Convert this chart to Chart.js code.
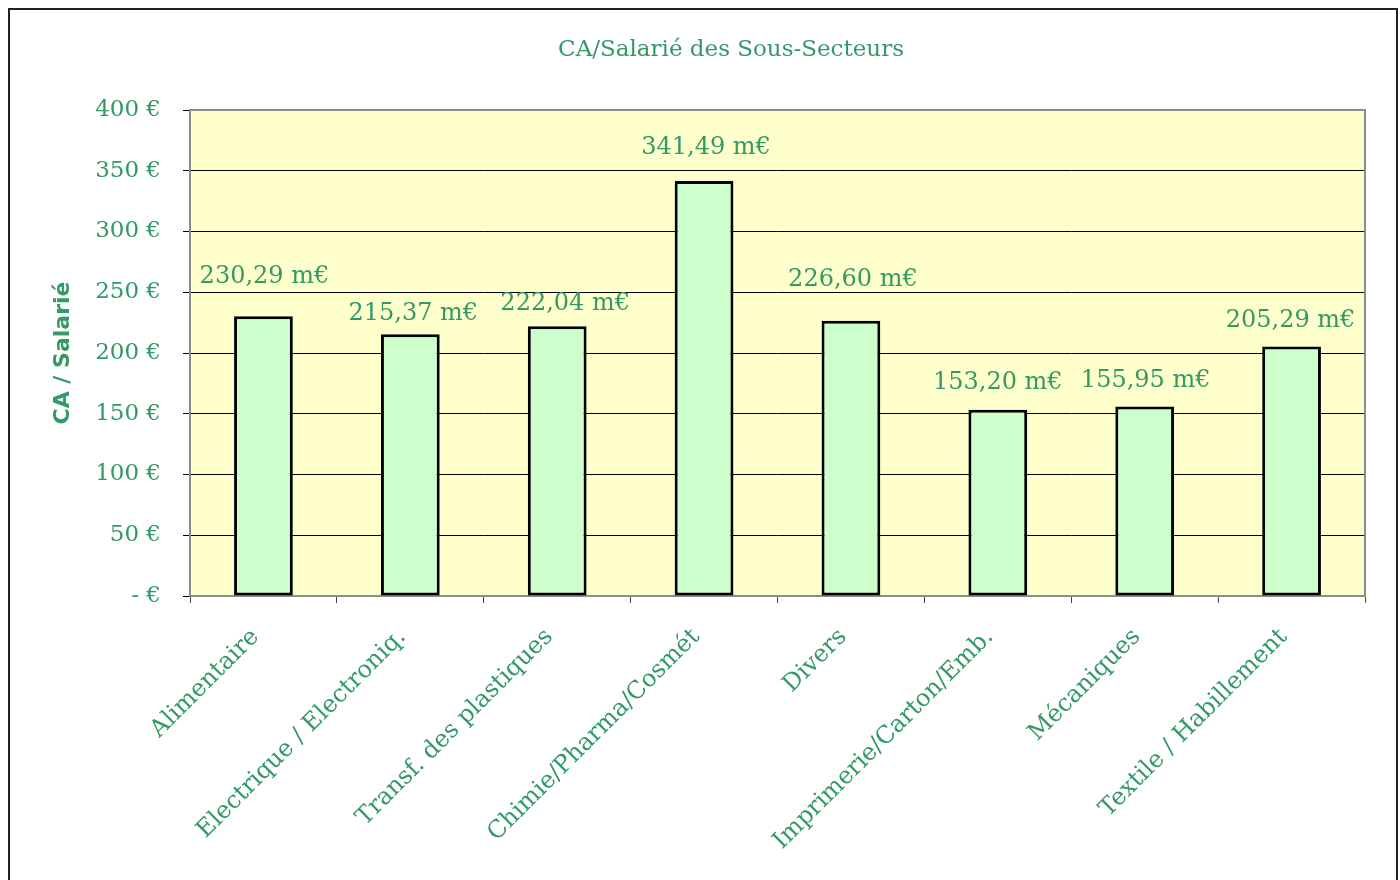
<!DOCTYPE html>
<html>
<head>
<meta charset="utf-8">
<script src="https://cdn.jsdelivr.net/npm/chart.js@4.4.1/dist/chart.umd.min.js"></script>
<style>
  html, body { margin: 0; padding: 0; background: #fff; overflow: hidden; }
  #wrap { position: relative; width: 1400px; height: 880px; }
  #frame { position: absolute; left: 8px; top: 8px; width: 1386px; height: 900px; border: 2px solid #222; pointer-events: none; }
</style>
</head>
<body>
<div id="wrap">
  <canvas id="chart" width="1400" height="880"></canvas>
  <div id="frame"></div>
</div>
<script>
// Chart data
const categories = [
  'Alimentaire',
  'Electrique / Electroniq.',
  'Transf. des plastiques',
  'Chimie/Pharma/Cosmét',
  'Divers',
  'Imprimerie/Carton/Emb.',
  'Mécaniques',
  'Textile / Habillement'
]
const caParSalarie = [230.29, 215.37, 222.04, 341.49, 226.60, 153.20, 155.95, 205.29]
const chartTitle = 'CA/Salarié des Sous-Secteurs'
const yAxisTitle = 'CA / Salarié'

const green = '#339966'
const serif = '"DejaVu Serif", serif'

// how far each value label sits above its bar (the original places them by hand)
const labelNudge = [
  { dx: 1, dy: 39 }, { dx: 3, dy: 21 }, { dx: 8, dy: 22 }, { dx: 2, dy: 33 },
  { dx: 2, dy: 41 }, { dx: 0, dy: 27 }, { dx: 1, dy: 26 }, { dx: -1, dy: 26 }
]

const formatValue = v => v.toFixed(2).replace('.', ',') + ' m€'

// yellow plot area with grey frame
const plotArea = {
  id: 'plotArea',
  beforeDraw(chart) {
    const { ctx, chartArea: a } = chart
    ctx.save()
    ctx.fillStyle = '#FFFFCC'
    ctx.fillRect(a.left, a.top, a.right - a.left, a.bottom - a.top)
    ctx.restore()
  },
  beforeDatasetsDraw(chart) {
    const { ctx, chartArea: a } = chart
    ctx.save()
    ctx.strokeStyle = '#8c8c8c'
    ctx.lineWidth = 2
    ctx.strokeRect(a.left, a.top, a.right - a.left, a.bottom - a.top)
    ctx.restore()
  }
}

// title and value labels
const texts = {
  id: 'texts',
  afterDatasetsDraw(chart) {
    const { ctx } = chart
    ctx.save()
    ctx.fillStyle = green
    ctx.textAlign = 'center'
    ctx.textBaseline = 'middle'
    ctx.font = '23px ' + serif
    ctx.fillText(chartTitle, 731, 50)

    ctx.font = '24px ' + serif
    const meta = chart.getDatasetMeta(0)
    meta.data.forEach((bar, i) => {
      const n = labelNudge[i]
      ctx.fillText(formatValue(caParSalarie[i]), bar.x + n.dx, bar.y - n.dy)
    })
    ctx.restore()
  }
}

new Chart(document.getElementById('chart'), {
  type: 'bar',
  data: {
    labels: categories,
    datasets: [{
      label: 'CA / Salarié',
      data: caParSalarie,
      backgroundColor: '#CCFFCC',
      borderColor: '#000',
      borderWidth: 3,
      borderSkipped: false,
      barPercentage: 0.4,
      categoryPercentage: 1
    }]
  },
  options: {
    responsive: false,
    animation: false,
    layout: { padding: { top: 110, right: 35, left: 50, bottom: 0 } },
    plugins: {
      legend: { display: false },
      tooltip: { enabled: false }
    },
    scales: {
      x: {
        afterFit(scale) { scale.height = 284 },
        grid: { display: true, drawOnChartArea: false, drawTicks: true, tickLength: 7, color: '#444', offset: true },
        border: { display: false },
        ticks: {
          autoSkip: false,
          minRotation: 45,
          maxRotation: 45,
          padding: 20,
          labelOffset: -8,
          color: green,
          font: { family: serif, size: 24 }
        }
      },
      y: {
        min: 0,
        max: 400,
        afterFit(scale) { scale.width = 140 },
        grid: { color: '#000', lineWidth: 1, tickLength: 7 },
        border: { display: false },
        ticks: {
          stepSize: 50,
          padding: 22,
          color: green,
          font: { family: serif, size: 23 },
          callback: v => v === 0 ? '- €' : v + ' €'
        },
        title: {
          display: true,
          text: yAxisTitle,
          color: green,
          font: { family: '"DejaVu Sans", sans-serif', size: 22, weight: 'bold' },
          padding: { top: 0, bottom: 0 }
        }
      }
    }
  },
  plugins: [plotArea, texts]
})
</script>
</body>
</html>
